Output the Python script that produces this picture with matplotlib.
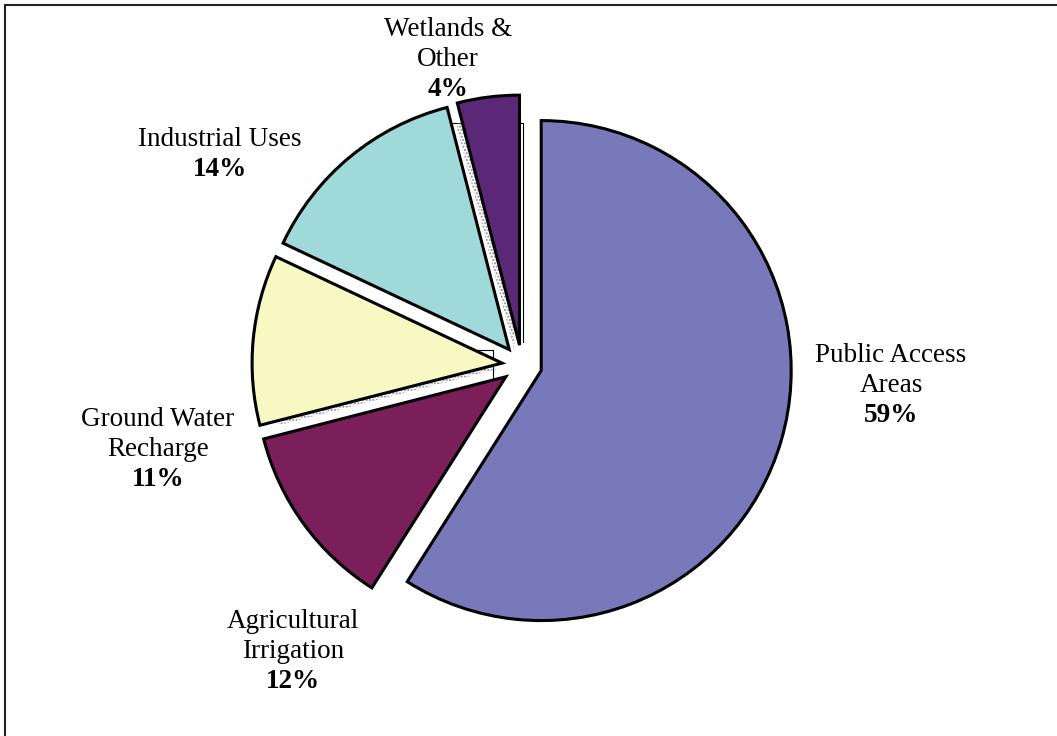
import matplotlib.pyplot as plt
import matplotlib.patches as mpatches

plt.rcParams['font.family'] = ['Liberation Serif', 'DejaVu Serif']

W, H = 1057, 736

# water use shares
names = ['Public Access\nAreas', 'Agricultural\nIrrigation', 'Ground Water\nRecharge',
         'Industrial Uses', 'Wetlands &\nOther']
shares = [59, 12, 11, 14, 4]
colors = ['#7779BA', '#7B1F5B', '#F8F8C3', '#A0D9DA', '#5B2878']

# label anchors (x centre, baseline of first line) in pixels from top-left
label_pos = [(891, 362), (293, 628), (158, 426), (220, 146), (448, 36)]
line_step = 30

fig = plt.figure(figsize=(W / 100, H / 100), dpi=100)
ax = fig.add_axes([0, 0, 1, 1])

cx, cy = 522, H - 365
R = 250

wedges, _ = ax.pie(shares, colors=colors, startangle=90, counterclock=False,
                   radius=R, center=(cx, cy), explode=[20] * len(shares),
                   wedgeprops=dict(edgecolor='black', linewidth=2.2, zorder=3),
                   frame=True)

# dotted drop shadow peeking out in the gaps
disk = mpatches.Circle((cx, cy), R, transform=ax.transData)
for w, show in zip(wedges, [False, False, True, False, True]):
    if not show:
        continue
    (wx, wy) = w.center
    sh = mpatches.Wedge((wx - 5, wy - 6), w.r, w.theta1, w.theta2,
                        facecolor='none', edgecolor='#8c8c8c', hatch='.....',
                        linewidth=0, zorder=2)
    ax.add_patch(sh)
    sh.set_clip_path(disk)

# leftover plot-area edges behind the slices
ax.plot([435, 523, 523], [H - 123, H - 123, H - 342], color='black', lw=0.8, zorder=1)
ax.plot([400, 493, 493], [H - 350, H - 350, H - 395], color='black', lw=0.8, zorder=1)

for name, pct, (lx, ly) in zip(names, shares, label_pos):
    lines = name.split('\n')
    for i, line in enumerate(lines):
        ax.text(lx, H - (ly + i * line_step), line, ha='center', va='baseline',
                fontsize=19.5)
    ax.text(lx, H - (ly + len(lines) * line_step), f'{pct}%', ha='center',
            va='baseline', fontsize=19.5, fontweight='bold')

ax.set_xlim(0, W)
ax.set_ylim(0, H)
ax.set_aspect('equal')
ax.axis('off')

# chart border (runs off the right and bottom edges)
fig.add_artist(mpatches.Rectangle((5, -10), W + 20, H + 5,
                                  transform=None, fill=False,
                                  edgecolor='#222222', linewidth=1.5))

fig.savefig('out.png', dpi=100)
